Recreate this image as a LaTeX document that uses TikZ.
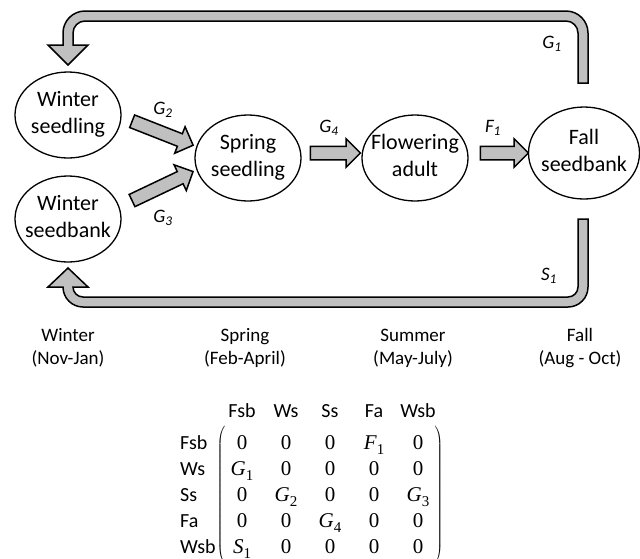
\documentclass[tikz,border=0pt]{standalone}
\usepackage[no-math]{fontspec}
\setmainfont{Carlito}
\newfontfamily\mfont{Liberation Serif}
\usetikzlibrary{shapes.geometric,shapes.arrows,calc,matrix}
\definecolor{arrgray}{RGB}{192,192,192}
\newcommand\twoline[2]{\makebox[0pt]{\begin{tabular}{@{}c@{}}#1\\#2\end{tabular}}}
\newcommand\msub[2]{\textit{#1}\raisebox{-0.28em}{\fontsize{15}{15}\selectfont #2}}
\newcommand\blockarrow[2]{\path let \p1=($(#2)-(#1)$), \n1={atan2(\y1,\x1)}, \n2={veclen(\x1,\y1)} in node[blockarr,minimum height=\n2,rotate=\n1] at ($(#1)!0.5!(#2)$) {};}
\begin{document}
\begin{tikzpicture}[x=1pt,y=-1pt,
 stage/.style={ellipse,draw,line width=1.3pt,minimum width=106pt,minimum height=86pt,inner sep=0pt,font=\fontsize{22}{27}\selectfont},
 blockarr/.style={single arrow,draw,fill=arrgray,line width=1.5pt,inner xsep=0pt,inner ysep=6pt,single arrow head extend=7.5pt,single arrow head indent=0pt,single arrow tip angle=90,anchor=center},
 band/.style={draw,fill=arrgray,line width=1.5pt,line join=miter},
 rate/.style={font=\fontsize{19}{22}\selectfont\itshape,inner sep=0pt},
 season/.style={font=\fontsize{19}{23}\selectfont,align=center,inner sep=0pt},
 lab/.style={font=\fontsize{20}{24}\selectfont,inner sep=0pt}]
\useasboundingbox (0,0) rectangle (640,558);

% life stages
\node[stage] (ws)  at (68,115)  {\twoline{Winter}{seedling}};
\node[stage] (wsb) at (68,219)  {\twoline{Winter}{seedbank}};
\node[stage] (ss)  at (248,158) {\twoline{Spring}{seedling}};
\node[stage] (fa)  at (415,158) {\twoline{Flowering}{adult}};
\node[stage,minimum width=111pt,minimum height=92pt] (fsb) at (584,153) {\twoline{Fall}{seedbank}};

% block arrow end points
\coordinate (g2a) at (129,120); \coordinate (g2b) at (190,144);
\coordinate (g3a) at (129,202); \coordinate (g3b) at (190,173);
\coordinate (g4a) at (307,153); \coordinate (g4b) at (357,153);
\coordinate (f1a) at (477,153); \coordinate (f1b) at (525,153);
\blockarrow{g2a}{g2b}
\blockarrow{g3a}{g3b}
\blockarrow{g4a}{g4b}
\blockarrow{f1a}{f1b}

% loop from fall seedbank to winter seedling (G1)
\draw[band] (588,83) -- (588,33) .. controls (588,20.85) and (578.15,11) .. (566,11)
  -- (85,11) .. controls (72.85,11) and (63,20.85) .. (63,33)
  -- (63,45) -- (48,45) -- (68,65) -- (88,45) -- (73,45)
  -- (73,33) .. controls (73,26.38) and (78.38,21) .. (85,21)
  -- (566,21) .. controls (572.62,21) and (578,26.38) .. (578,33)
  -- (578,83) -- cycle;

% loop from fall seedbank to winter seedbank (S1)
\draw[band] (588,219) -- (588,287) .. controls (588,298.05) and (579.05,307) .. (568,307)
  -- (83,307) .. controls (71.95,307) and (63,298.05) .. (63,287)
  -- (48,287) -- (68,268) -- (88,287) -- (73,287)
  .. controls (73,292.52) and (77.48,297) .. (83,297)
  -- (568,297) .. controls (573.52,297) and (578,292.52) .. (578,287)
  -- (578,219) -- cycle;

% rate labels
\node[rate] (lg1) at (552,44)  {G\textsubscript{1}};
\node[rate] (ls1) at (549,276) {S\textsubscript{1}};
\node[rate] (lg2) at (163,110) {G\textsubscript{2}};
\node[rate] (lg3) at (163,218) {G\textsubscript{3}};
\node[rate] (lg4) at (329,128) {G\textsubscript{4}};
\node[rate] (lf1) at (493,128) {F\textsubscript{1}};

% seasons
\node[season] (swin) at (68,348)  {Winter\\(Nov-Jan)};
\node[season] (sspr) at (245,348) {Spring\\(Feb-April)};
\node[season] (ssum) at (413,348) {Summer\\(May-July)};
\node[season] (sfal) at (580,348) {Fall\\(Aug - Oct)};

% projection matrix
\matrix (M) [matrix of nodes, left delimiter=(, right delimiter=),
  nodes={minimum width=24pt,text height=14.5pt,text depth=4.5pt,inner xsep=0pt,inner ysep=3.5pt,font=\fontsize{21}{25}\selectfont\mfont},
  column sep=20pt,row sep=0pt,anchor=center] at (330,496) {
0 & 0 & 0 & \msub{F}{1} & 0 \\
\msub{G}{1} & 0 & 0 & 0 & 0 \\
0 & \msub{G}{2} & 0 & 0 & \msub{G}{3} \\
0 & 0 & \msub{G}{4} & 0 & 0 \\
\msub{S}{1} & 0 & 0 & 0 & 0 \\
};
\coordinate (hdr) at (0,417);
\coordinate (rlab) at (180,0);
\node[lab,anchor=base] (h1) at (M-1-1 |- hdr) {Fsb};
\node[lab,anchor=base] (h2) at (M-1-2 |- hdr) {Ws};
\node[lab,anchor=base] (h3) at (M-1-3 |- hdr) {Ss};
\node[lab,anchor=base] (h4) at (M-1-4 |- hdr) {Fa};
\node[lab,anchor=base] (h5) at (M-1-5 |- hdr) {Wsb};
\node[lab,anchor=base west] (r1) at (rlab |- M-1-1.base) {Fsb};
\node[lab,anchor=base west] (r2) at (rlab |- M-2-1.base) {Ws};
\node[lab,anchor=base west] (r3) at (rlab |- M-3-1.base) {Ss};
\node[lab,anchor=base west] (r4) at (rlab |- M-4-1.base) {Fa};
\node[lab,anchor=base west] (r5) at (rlab |- M-5-1.base) {Wsb};
\end{tikzpicture}
\end{document}
